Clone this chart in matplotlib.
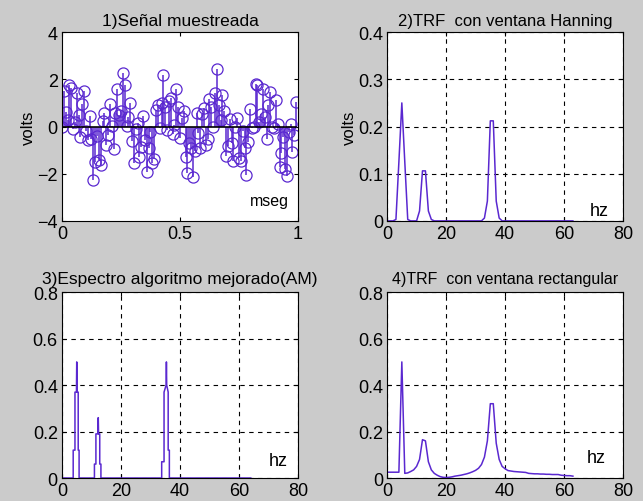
import matplotlib
matplotlib.use("Agg")
import matplotlib.pyplot as plt

plt.rcParams['font.family'] = ['Liberation Sans', 'DejaVu Sans']
plt.rcParams['font.size'] = 11

# 1) sampled signal, 128 samples over 1 mseg
n_samples = 128
signal = [0.00, 1.52, 0.60, 0.28, 1.78, 1.63, -0.12, 0.17, 1.41, 0.48,
          -0.43, 0.97, 1.52, -0.17, -0.59, 0.44, -0.52, -2.26, -1.51, -0.40,
          -1.42, -1.64, 0.22, 0.59, -0.80, -0.37, 0.95, 0.03, -0.94, 0.57,
          1.57, 0.48, 0.65, 2.28, 1.76, 0.02, 0.41, 1.01, -0.63, -1.53,
          -0.11, 0.14, -1.28, -0.88, 0.45, -0.57, -1.93, -0.91, -0.25, -1.54,
          -1.37, 0.68, 0.90, -0.07, 0.98, 2.17, 0.83, -0.15, 1.08, 1.20,
          -0.33, 0.05, 1.58, 0.82, -0.50, 0.34, 0.64, -1.30, -1.99, -0.68,
          -0.91, -2.13, -1.02, 0.56, -0.29, -0.93, 0.51, 0.78, -0.79, -0.51,
          1.17, 0.81, -0.02, 1.43, 2.42, 0.93, 0.27, 1.33, 0.66, -1.23,
          -0.83, 0.33, -0.70, -1.46, 0.00, 0.34, -1.35, -1.46, -0.19, -0.91,
          -2.05, -0.64, 0.75, -0.08, -0.03, 1.79, 1.77, 0.17, 0.55, 1.60,
          0.41, -0.54, 0.90, 1.47, -0.01, -0.07, 1.13, 0.11, -1.70, -1.12,
          -0.43, -1.81, -2.11, -0.25, 0.12, -1.06, -0.34, 1.03]
time = [i / n_samples for i in range(n_samples)]

# 2) Hanning window spectrum, bins 0..63 hz
freq = list(range(64))
hann = [0.0, 0.0, 0.0, 0.003, 0.125, 0.25, 0.125, 0.003, 0.0, 0.0,
        0.0, 0.021, 0.106, 0.106, 0.021, 0.003, 0.0, 0.0, 0.0, 0.0,
        0.0, 0.0, 0.0, 0.0, 0.0, 0.0, 0.0, 0.0, 0.0, 0.0,
        0.0, 0.0, 0.0, 0.006, 0.042, 0.212, 0.212, 0.042, 0.006, 0.0,
        0.0, 0.0, 0.0, 0.0, 0.0, 0.0, 0.0, 0.0, 0.0, 0.0,
        0.0, 0.0, 0.0, 0.0, 0.0, 0.0, 0.0, 0.0, 0.0, 0.0,
        0.0, 0.0, 0.0, 0.0]

# 3) improved algorithm spectrum (stepped outline)
am_freq = [0.0, 3.8, 3.8, 4.4, 4.4, 4.9, 5.0, 5.1, 5.5, 5.5, 5.8, 5.8,
           11.0, 11.0, 11.5, 11.5, 12.2, 12.3, 12.4, 12.8, 12.8, 13.2, 13.2,
           33.8, 33.8, 34.6, 34.6, 35.3, 35.4, 35.5, 36.0, 36.0, 36.4, 36.4, 64.0]
am_amp = [0.0, 0.0, 0.12, 0.12, 0.37, 0.37, 0.50, 0.37, 0.37, 0.12, 0.12, 0.0,
          0.0, 0.06, 0.06, 0.19, 0.19, 0.26, 0.19, 0.19, 0.06, 0.06, 0.0,
          0.0, 0.07, 0.07, 0.37, 0.40, 0.50, 0.40, 0.37, 0.12, 0.12, 0.0, 0.0]

# 4) rectangular window spectrum, bins 0..63 hz
rect = [0.025, 0.025, 0.025, 0.025, 0.025, 0.50, 0.020, 0.022, 0.028, 0.035,
        0.050, 0.080, 0.165, 0.160, 0.070, 0.035, 0.020, 0.012, 0.006, 0.003,
        0.002, 0.003, 0.005, 0.008, 0.010, 0.012, 0.015, 0.018, 0.022, 0.027,
        0.033, 0.042, 0.058, 0.090, 0.160, 0.320, 0.320, 0.150, 0.080, 0.050,
        0.040, 0.032, 0.030, 0.028, 0.027, 0.026, 0.025, 0.024, 0.020, 0.019,
        0.018, 0.018, 0.017, 0.017, 0.016, 0.016, 0.015, 0.015, 0.015, 0.012,
        0.011, 0.010, 0.010, 0.008]

col = '#5a28d0'
bg = '#cbcbcb'

fig = plt.figure(figsize=(6.43, 5.02), dpi=100, facecolor=bg)
w, h1, h2 = 0.367, 0.376, 0.370
ax1 = fig.add_axes([0.0964, 0.558, w, h1])
ax2 = fig.add_axes([0.602, 0.558, w, h1])
ax3 = fig.add_axes([0.0964, 0.0458, w, h2])
ax4 = fig.add_axes([0.602, 0.0458, w, h2])

for ax in (ax1, ax2, ax3, ax4):
    ax.set_facecolor('white')
    ax.tick_params(direction='in', length=3, top=True, right=True, labelsize=13, pad=3)
    for s in ax.spines.values():
        s.set_linewidth(0.8)

# subplot 1
ml, sl, bl = ax1.stem(time, signal, linefmt='-', markerfmt='o', basefmt='k-')
plt.setp(sl, color=col, linewidth=1.1)
plt.setp(ml, markerfacecolor='none', markeredgecolor=col, markersize=8, markeredgewidth=0.9)
plt.setp(bl, color='black', linewidth=1.2)
ax1.set_xlim(0, 1)
ax1.set_ylim(-4, 4)
ax1.set_xticks([0, 0.5, 1])
ax1.set_xticklabels(['0', '0.5', '1'])
ax1.set_yticks([-4, -2, 0, 2, 4])
ax1.set_ylabel('volts', fontsize=12, labelpad=1)
ax1.set_title('1)Señal muestreada', fontsize=12.5, pad=5)
ax1.text(0.797, 0.106, 'mseg', transform=ax1.transAxes, va='center', fontsize=11.5)

# subplot 2
ax2.plot(freq, hann, color=col, linewidth=1.1)
ax2.set_xlim(0, 80)
ax2.set_ylim(0, 0.4)
ax2.set_xticks([0, 20, 40, 60, 80])
ax2.set_yticks([0, 0.1, 0.2, 0.3, 0.4])
ax2.set_yticklabels(['0', '0.1', '0.2', '0.3', '0.4'])
ax2.set_ylabel('volts', fontsize=12, labelpad=1)
ax2.set_title('2)TRF  con ventana Hanning', fontsize=12, pad=5)
ax2.text(0.86, 0.054, 'hz', transform=ax2.transAxes, va='center', fontsize=13)

# subplot 3
ax3.plot(am_freq, am_amp, color=col, linewidth=1.1)
ax3.set_title('3)Espectro algoritmo mejorado(AM)', fontsize=12.5, pad=7)
ax3.text(0.875, 0.093, 'hz', transform=ax3.transAxes, va='center', fontsize=13)

# subplot 4
ax4.plot(freq, rect, color=col, linewidth=1.1)
ax4.set_title('4)TRF  con ventana rectangular', fontsize=11.5, pad=7)
ax4.text(0.845, 0.113, 'hz', transform=ax4.transAxes, va='center', fontsize=13)

for ax in (ax3, ax4):
    ax.set_xlim(0, 80)
    ax.set_ylim(0, 0.8)
    ax.set_xticks([0, 20, 40, 60, 80])
    ax.set_yticks([0, 0.2, 0.4, 0.6, 0.8])
    ax.set_yticklabels(['0', '0.2', '0.4', '0.6', '0.8'])

for ax in (ax2, ax3, ax4):
    ax.grid(True, color='black', linestyle=(0, (4, 4)), linewidth=0.8)

fig.savefig('out.png', dpi=100, facecolor=bg)
